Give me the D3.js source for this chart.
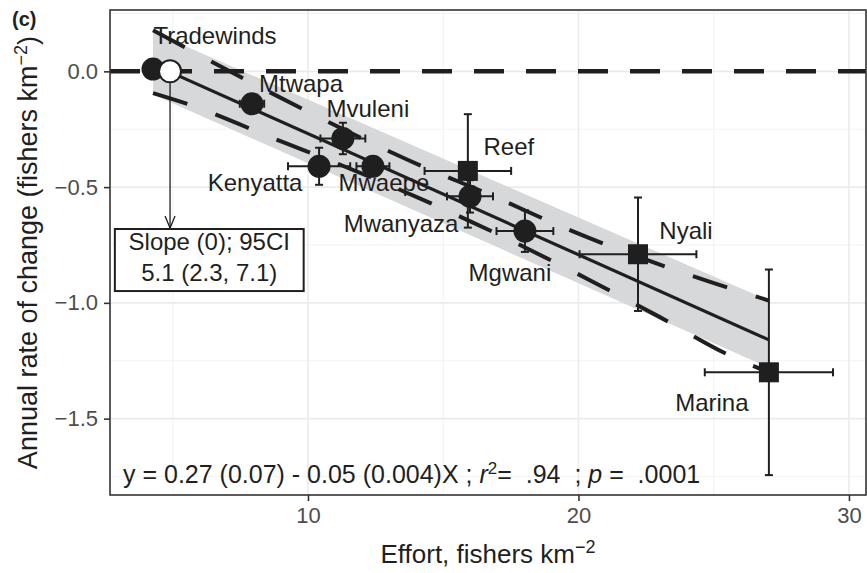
<!DOCTYPE html>
<html>
<head>
<meta charset="utf-8">
<script src="https://cdn.jsdelivr.net/npm/d3@7"></script>
<style>
	body { margin: 0; background: #ffffff; }
	svg { display: block; font-family: "Liberation Sans", Arial, Helvetica, sans-serif; }
	text { white-space: pre; }
</style>
</head>
<body>
<svg id="effortChart"></svg>
<script>
// sites
var siteNames    = ["Tradewinds", "Mtwapa", "Mvuleni", "Kenyatta", "Mwaepe", "Reef", "Mwanyaza", "Mgwani", "Nyali", "Marina"];
var siteShapes   = ["circle", "circle", "circle", "circle", "circle", "square", "circle", "circle", "square", "square"];
var effort       = [4.27, 7.93, 11.29, 10.41, 12.40, 15.91, 15.99, 18.02, 22.20, 27.04];
var effortErr    = [0.20, 0.45, 0.83, 1.15, 0.61, 1.60, 0.85, 1.05, 2.16, 2.37];
var rateOfChange = [0.01, -0.14, -0.29, -0.41, -0.41, -0.43, -0.54, -0.69, -0.79, -1.30];
var rateErr      = [0.02, 0.04, 0.068, 0.08, 0.03, 0.245, 0.07, 0.09, 0.245, 0.444];

// fitted line and its grey band
var fitEffort = [4.27, 27.04];
var fitRate   = [0.03, -1.16];
var bandUpper = [0.17, -0.99];
var bandLower = [-0.10, -1.28];

// dashed confidence curves
var upperEffort = [4.27, 7.86, 13.70, 17.10, 19.20, 24.12, 27.04];
var upperRate   = [0.178, -0.046, -0.383, -0.552, -0.662, -0.880, -0.99];
var lowerEffort = [4.27, 5.34, 9.08, 11.04, 17.47, 20.42, 22.87, 25.71, 27.04];
var lowerRate   = [-0.094, -0.133, -0.306, -0.396, -0.729, -0.902, -1.053, -1.234, -1.30];

// effort where the fitted rate is zero
var slopeZeroEffort = 4.9;
var slopeZeroRate   = 0;
var slopeText       = ["Slope (0); 95CI", "5.1 (2.3, 7.1)"];

var xTicks = [10, 20, 30];
var xMinor = [5, 15, 25];
var yTicks = [0, -0.5, -1, -1.5];
var yTickLabels = ["0.0", "\u22120.5", "\u22121.0", "\u22121.5"];
var yMinor = [0.25, -0.25, -0.75, -1.25, -1.75];

class EffortChart {
	constructor(width, height) {
		this.margin = { top: 10, right: 1, bottom: 78, left: 110 };
		this.width = width - this.margin.left - this.margin.right;
		this.height = height - this.margin.top - this.margin.bottom;

		this.svg = d3.select("#effortChart")
			.attr("width", width)
			.attr("height", height);

		this.xScale = d3.scaleLinear().domain([2.68, 30.63]).range([this.margin.left, this.margin.left + this.width]);
		this.yScale = d3.scaleLinear().domain([-1.83, 0.265]).range([this.margin.top + this.height, this.margin.top]);

		this.ink = "#1f1f1f";
		this.rows = siteNames.map(function(name, i) {
			return { name: name, shape: siteShapes[i], x: effort[i], xe: effortErr[i], y: rateOfChange[i], ye: rateErr[i] };
		});
		// label position relative to the point, in pixels
		this.labelOffsets = [[62, -25], [49, -12], [25, -21], [-64, 25], [11, 25], [41, -16], [-69, 36], [-15, 50], [48, -15], [-57, 39]];

		this.svg.append("defs").append("clipPath").attr("id", "panelClip")
			.append("rect")
			.attr("x", this.margin.left).attr("y", this.margin.top)
			.attr("width", this.width).attr("height", this.height);

		this.drawGrid();
		this.panel = this.svg.append("g").attr("clip-path", "url(#panelClip)");
		this.drawFit();
		this.drawPoints();
		this.drawAnnotations();
		this.drawAxis();
	}

	drawGrid() {
		var g = this.svg.append("g").attr("class", "grid");
		g.append("rect")
			.attr("x", this.margin.left).attr("y", this.margin.top)
			.attr("width", this.width).attr("height", this.height)
			.attr("fill", "#ffffff");

		g.selectAll(".xMinor").data(xMinor).enter().append("line")
			.attr("x1", function(d) { return this.xScale(d); }.bind(this))
			.attr("x2", function(d) { return this.xScale(d); }.bind(this))
			.attr("y1", this.margin.top).attr("y2", this.margin.top + this.height)
			.attr("stroke", "#f0f0f0").attr("stroke-width", 0.9);
		g.selectAll(".yMinor").data(yMinor).enter().append("line")
			.attr("y1", function(d) { return this.yScale(d); }.bind(this))
			.attr("y2", function(d) { return this.yScale(d); }.bind(this))
			.attr("x1", this.margin.left).attr("x2", this.margin.left + this.width)
			.attr("stroke", "#f0f0f0").attr("stroke-width", 0.9);
		g.selectAll(".xMajor").data(xTicks).enter().append("line")
			.attr("x1", function(d) { return this.xScale(d); }.bind(this))
			.attr("x2", function(d) { return this.xScale(d); }.bind(this))
			.attr("y1", this.margin.top).attr("y2", this.margin.top + this.height)
			.attr("stroke", "#ebebeb").attr("stroke-width", 1.6);
		g.selectAll(".yMajor").data(yTicks).enter().append("line")
			.attr("y1", function(d) { return this.yScale(d); }.bind(this))
			.attr("y2", function(d) { return this.yScale(d); }.bind(this))
			.attr("x1", this.margin.left).attr("x2", this.margin.left + this.width)
			.attr("stroke", "#ebebeb").attr("stroke-width", 1.6);
	}

	drawFit() {
		var line = d3.line()
			.x(function(d) { return this.xScale(d[0]); }.bind(this))
			.y(function(d) { return this.yScale(d[1]); }.bind(this));
		var curve = d3.line()
			.curve(d3.curveMonotoneX)
			.x(function(d) { return this.xScale(d[0]); }.bind(this))
			.y(function(d) { return this.yScale(d[1]); }.bind(this));

		var band = [0, 1].map(function(i) { return { x: fitEffort[i], lo: bandLower[i], hi: bandUpper[i] }; });
		this.panel.append("path")
			.datum(band)
			.attr("fill", "#d7d8d9")
			.attr("d", d3.area()
				.x(function(d) { return this.xScale(d.x); }.bind(this))
				.y0(function(d) { return this.yScale(d.lo); }.bind(this))
				.y1(function(d) { return this.yScale(d.hi); }.bind(this)));

		[d3.zip(upperEffort, upperRate), d3.zip(lowerEffort, lowerRate)].forEach(function(pts) {
			this.panel.append("path")
				.datum(pts)
				.attr("d", curve)
				.attr("fill", "none")
				.attr("stroke", this.ink)
				.attr("stroke-width", 4)
				.attr("stroke-dasharray", "36 30");
		}.bind(this));

		// zero reference
		this.panel.append("line")
			.attr("x1", this.margin.left).attr("x2", this.margin.left + this.width)
			.attr("y1", this.yScale(0)).attr("y2", this.yScale(0))
			.attr("stroke", this.ink)
			.attr("stroke-width", 4.5)
			.attr("stroke-dasharray", "30 22");

		this.panel.append("path")
			.datum(d3.zip(fitEffort, fitRate))
			.attr("d", line)
			.attr("fill", "none")
			.attr("stroke", this.ink)
			.attr("stroke-width", 3.2);
	}

	drawPoints() {
		var g = this.panel.append("g").attr("class", "sites");
		var cap = 4;
		var x = this.xScale, y = this.yScale;

		var bars = g.selectAll(".errorBar").data(this.rows).enter().append("g")
			.attr("stroke", this.ink).attr("stroke-width", 2);
		bars.append("line")
			.attr("x1", function(d) { return x(d.x); }).attr("x2", function(d) { return x(d.x); })
			.attr("y1", function(d) { return y(d.y - d.ye); }).attr("y2", function(d) { return y(d.y + d.ye); });
		bars.append("line")
			.attr("x1", function(d) { return x(d.x) - cap; }).attr("x2", function(d) { return x(d.x) + cap; })
			.attr("y1", function(d) { return y(d.y - d.ye); }).attr("y2", function(d) { return y(d.y - d.ye); });
		bars.append("line")
			.attr("x1", function(d) { return x(d.x) - cap; }).attr("x2", function(d) { return x(d.x) + cap; })
			.attr("y1", function(d) { return y(d.y + d.ye); }).attr("y2", function(d) { return y(d.y + d.ye); });
		bars.append("line")
			.attr("x1", function(d) { return x(d.x - d.xe); }).attr("x2", function(d) { return x(d.x + d.xe); })
			.attr("y1", function(d) { return y(d.y); }).attr("y2", function(d) { return y(d.y); });
		bars.append("line")
			.attr("x1", function(d) { return x(d.x - d.xe); }).attr("x2", function(d) { return x(d.x - d.xe); })
			.attr("y1", function(d) { return y(d.y) - cap; }).attr("y2", function(d) { return y(d.y) + cap; });
		bars.append("line")
			.attr("x1", function(d) { return x(d.x + d.xe); }).attr("x2", function(d) { return x(d.x + d.xe); })
			.attr("y1", function(d) { return y(d.y) - cap; }).attr("y2", function(d) { return y(d.y) + cap; });

		g.selectAll(".siteCircle").data(this.rows.filter(function(d) { return d.shape == "circle"; })).enter()
			.append("circle")
			.attr("cx", function(d) { return x(d.x); })
			.attr("cy", function(d) { return y(d.y); })
			.attr("r", 11.5)
			.attr("fill", this.ink);
		g.selectAll(".siteSquare").data(this.rows.filter(function(d) { return d.shape == "square"; })).enter()
			.append("rect")
			.attr("x", function(d) { return x(d.x) - 10; })
			.attr("y", function(d) { return y(d.y) - 10; })
			.attr("width", 20).attr("height", 20)
			.attr("fill", this.ink);

		// x-intercept of the fit
		g.append("circle")
			.attr("cx", x(slopeZeroEffort)).attr("cy", y(slopeZeroRate))
			.attr("r", 11)
			.attr("fill", "#ffffff")
			.attr("stroke", this.ink)
			.attr("stroke-width", 2);

		g.selectAll(".siteLabel").data(this.rows).enter().append("text")
			.attr("x", function(d, i) { return x(d.x) + this.labelOffsets[i][0]; }.bind(this))
			.attr("y", function(d, i) { return y(d.y) + this.labelOffsets[i][1]; }.bind(this))
			.attr("text-anchor", "middle")
			.attr("font-size", 24)
			.attr("fill", this.ink)
			.text(function(d) { return d.name; });
	}

	drawAnnotations() {
		var g = this.panel.append("g").attr("class", "annotations");
		var ax = this.xScale(slopeZeroEffort);
		var boxTop = this.yScale(-0.681), boxBottom = this.yScale(-0.949);
		var boxLeft = this.xScale(2.86), boxRight = this.xScale(9.84);

		g.append("line")
			.attr("x1", ax).attr("x2", ax)
			.attr("y1", this.yScale(slopeZeroRate) + 11).attr("y2", boxTop - 1)
			.attr("stroke", this.ink).attr("stroke-width", 1.3);
		g.append("path")
			.attr("d", "M" + (ax - 5) + "," + (boxTop - 13) + "L" + ax + "," + (boxTop - 1) + "L" + (ax + 5) + "," + (boxTop - 13))
			.attr("fill", "none").attr("stroke", this.ink).attr("stroke-width", 1.3);

		g.append("rect")
			.attr("x", boxLeft).attr("y", boxTop)
			.attr("width", boxRight - boxLeft).attr("height", boxBottom - boxTop)
			.attr("fill", "#ffffff").attr("stroke", this.ink).attr("stroke-width", 2);
		g.selectAll(".slopeText").data(slopeText).enter().append("text")
			.attr("x", (boxLeft + boxRight) / 2)
			.attr("y", function(d, i) { return boxTop + 21 + i * 31; })
			.attr("text-anchor", "middle")
			.attr("font-size", 24)
			.attr("fill", this.ink)
			.text(function(d) { return d; });

		var eq = g.append("text")
			.attr("x", this.margin.left + 13)
			.attr("y", this.margin.top + this.height - 12)
			.attr("font-size", 25)
			.attr("fill", this.ink);
		eq.append("tspan").text("y = 0.27 (0.07) - 0.05 (0.004)X ; ");
		eq.append("tspan").attr("font-style", "italic").text("r");
		eq.append("tspan").attr("font-size", 17).attr("dy", -9).text("2");
		eq.append("tspan").attr("dy", 9).text("=  .94  ; ");
		eq.append("tspan").attr("font-style", "italic").text("p");
		eq.append("tspan").text(" =  .0001");
	}

	drawAxis() {
		var top = this.margin.top, bottom = this.margin.top + this.height;
		var left = this.margin.left, right = this.margin.left + this.width;

		this.svg.append("rect")
			.attr("x", left).attr("y", top)
			.attr("width", this.width).attr("height", this.height)
			.attr("fill", "none").attr("stroke", "#333333").attr("stroke-width", 1.6);

		var xAxis = this.svg.append("g")
			.attr("transform", "translate(0," + bottom + ")")
			.call(d3.axisBottom(this.xScale).tickValues(xTicks).tickSize(6).tickPadding(6).tickFormat(d3.format("d")));
		var yAxis = this.svg.append("g")
			.attr("transform", "translate(" + left + ",0)")
			.call(d3.axisLeft(this.yScale).tickValues(yTicks).tickSize(6).tickPadding(6)
				.tickFormat(function(d, i) { return yTickLabels[i]; }));
		[xAxis, yAxis].forEach(function(a) {
			a.select(".domain").remove();
			a.selectAll(".tick line").attr("stroke", "#333333").attr("stroke-width", 1.6);
			a.selectAll(".tick text").attr("fill", "#4d4d4d").attr("font-size", 22)
				.attr("font-family", "Liberation Sans, Arial, sans-serif");
		});

		var xTitle = this.svg.append("text")
			.attr("x", (left + right) / 2).attr("y", 563)
			.attr("text-anchor", "middle").attr("font-size", 26).attr("fill", this.ink);
		xTitle.append("tspan").text("Effort, fishers km");
		xTitle.append("tspan").attr("font-size", 18).attr("dy", -10).text("\u22122");

		var yTitle = this.svg.append("text")
			.attr("transform", "translate(37," + ((top + bottom) / 2) + ") rotate(-90)")
			.attr("text-anchor", "middle").attr("font-size", 27).attr("fill", this.ink);
		yTitle.append("tspan").text("Annual rate of change (fishers km");
		yTitle.append("tspan").attr("font-size", 18).attr("dy", -10).text("\u22122");
		yTitle.append("tspan").attr("dy", 10).text(")");

		this.svg.append("text")
			.attr("x", 12).attr("y", 26)
			.attr("font-size", 20).attr("font-weight", "bold").attr("fill", this.ink)
			.text("(c)");
	}
}

new EffortChart(867, 573);
</script>
</body>
</html>
